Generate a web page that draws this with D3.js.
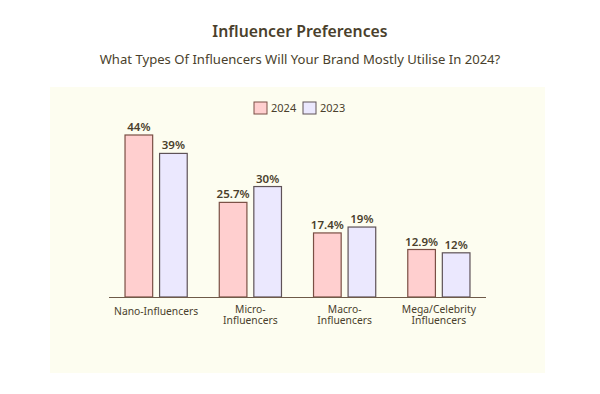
<!DOCTYPE html>
<html>
<head>
<meta charset="utf-8">
<script src="https://cdn.jsdelivr.net/npm/d3@7"></script>
<style>
  body { margin: 0; background: #ffffff; }
  svg { display: block; font-family: "Noto Sans", sans-serif; }
</style>
</head>
<body>
<div id="chart"></div>
<script>
const categories = ["Nano-Influencers", "Micro-\nInfluencers", "Macro-\nInfluencers", "Mega/Celebrity\nInfluencers"]
const seriesNames = ["2024", "2023"]
const values2024 = [44, 25.7, 17.4, 12.9]
const values2023 = [39, 30, 19, 12]
const valueLabels2024 = ["44%", "25.7%", "17.4%", "12.9%"]
const valueLabels2023 = ["39%", "30%", "19%", "12%"]

const config = { width: 600, height: 394 }
const margin = { left: 109, right: 114, top: 0, bottom: 97 }
const fills = ["#ffcfcf", "#ebe8fe"]
const strokes = ["#7a4f44", "#5e5257"]
const textColor = "#4a3f2c"

const data = categories.map((c, i) => ({
    category: c,
    values: [
        { key: seriesNames[0], value: values2024[i], label: valueLabels2024[i] },
        { key: seriesNames[1], value: values2023[i], label: valueLabels2023[i] }
    ]
}))

const svg = d3.select("#chart")
              .append("svg")
              .attr("width", config.width)
              .attr("height", config.height)

// cream panel
svg.append("rect")
   .attr("x", 50)
   .attr("y", 87)
   .attr("width", 495)
   .attr("height", 286)
   .attr("fill", "#fdfdf0")

svg.append("text")
   .attr("x", 300)
   .attr("y", 37)
   .attr("text-anchor", "middle")
   .attr("font-size", 15.8)
   .attr("font-weight", 600)
   .attr("fill", textColor)
   .text("Influencer Preferences")

svg.append("text")
   .attr("x", 300)
   .attr("y", 63.5)
   .attr("text-anchor", "middle")
   .attr("font-size", 13.1)
   .attr("fill", textColor)
   .text("What Types Of Influencers Will Your Brand Mostly Utilise In 2024?")

const baseline = config.height - margin.bottom

const xScale = d3.scaleBand()
                 .domain(categories)
                 .range([margin.left, config.width - margin.right])
                 .paddingInner(0.34)
                 .paddingOuter(0.17)

const xInner = d3.scaleBand()
                 .domain(seriesNames)
                 .range([0, xScale.bandwidth()])
                 .paddingInner(0.2)

const yScale = d3.scaleLinear()
                 .domain([0, 44])
                 .range([baseline, baseline - 162])

const groups = svg.append("g")
                  .selectAll(".group")
                  .data(data)
                  .enter()
                  .append("g")
                  .attr("class", "group")
                  .attr("transform", (d) => `translate(${xScale(d.category)},0)`)

groups.selectAll(".bar")
      .data((d) => d.values)
      .enter()
      .append("rect")
      .attr("class", "bar")
      .attr("x", (d) => xInner(d.key))
      .attr("y", (d) => yScale(d.value))
      .attr("width", xInner.bandwidth())
      .attr("height", (d) => baseline - yScale(d.value))
      .attr("fill", (d, i) => fills[i])
      .attr("stroke", (d, i) => strokes[i])
      .attr("stroke-width", 1.2)

groups.selectAll(".value")
      .data((d) => d.values)
      .enter()
      .append("text")
      .attr("class", "value")
      .attr("x", (d) => xInner(d.key) + xInner.bandwidth() / 2)
      .attr("y", (d) => yScale(d.value) - 4)
      .attr("text-anchor", "middle")
      .attr("font-size", 11.5)
      .attr("font-weight", 600)
      .attr("fill", textColor)
      .text((d) => d.label)

// x axis: only the baseline and the category labels
const xAxis = d3.axisBottom(xScale).tickSize(0).tickPadding(0)
const axisG = svg.append("g")
                 .attr("class", "x-axis")
                 .attr("transform", `translate(0, ${baseline})`)
                 .call(xAxis)

axisG.select(".domain")
     .attr("d", `M${margin.left},0.5H${config.width - margin.right}`)
     .attr("stroke", "#6e5a48")
     .attr("stroke-width", 1.2)

axisG.selectAll(".tick text").remove()
axisG.selectAll(".tick")
     .each(function (d) {
         const lines = d.split("\n")
         const tick = d3.select(this)
         lines.forEach((line, i) => {
             tick.append("text")
                 .attr("fill", textColor)
                 .attr("font-size", 10.3)
                 .attr("font-family", "'Noto Sans', sans-serif")
                 .attr("text-anchor", "middle")
                 .attr("x", 0)
                 .attr("y", lines.length === 1 ? 18 : 15.5 + i * 11)
                 .text(line)
         })
     })

// legend
const legend = svg.append("g")
                  .attr("transform", "translate(254, 102)")

seriesNames.forEach((name, i) => {
    const g = legend.append("g").attr("transform", `translate(${i * 49}, 0)`)
    g.append("rect")
     .attr("width", 13)
     .attr("height", 12)
     .attr("fill", fills[i])
     .attr("stroke", strokes[i])
     .attr("stroke-width", 1)
    g.append("text")
     .attr("x", 17)
     .attr("y", 10)
     .attr("font-size", 11)
     .attr("fill", textColor)
     .text(name)
})
</script>
</body>
</html>
